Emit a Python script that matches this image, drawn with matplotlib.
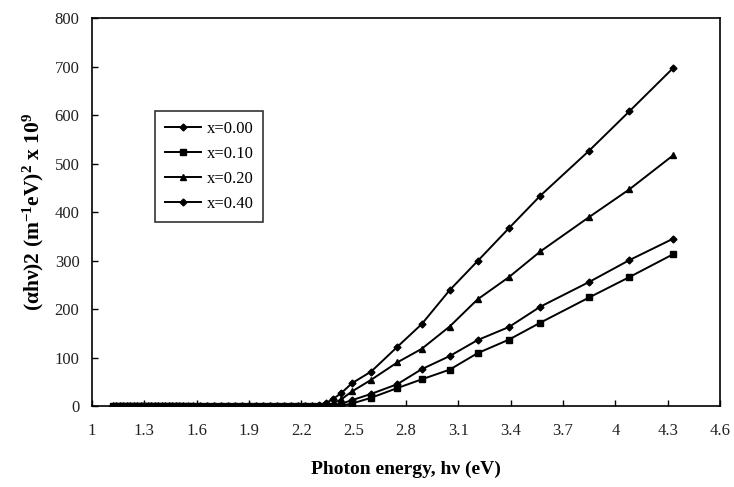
import numpy as np
import matplotlib
matplotlib.use('Agg')
import matplotlib.pyplot as plt

# photon energies (eV) of the rising part, shared by all samples
E_rise = [4.33, 4.08, 3.85, 3.57, 3.39, 3.21, 3.05, 2.89, 2.75, 2.60, 2.49, 2.43, 2.38, 2.34, 2.30]
# photon energies of the flat part below the gap
E_flat = [2.26, 2.22, 2.18, 2.14, 2.10, 2.06, 2.02, 1.98, 1.94, 1.90, 1.86, 1.82,
          1.78, 1.74, 1.70, 1.66, 1.62, 1.58, 1.55, 1.52, 1.50, 1.48, 1.46, 1.44,
          1.42, 1.40, 1.38, 1.36, 1.34, 1.32, 1.30, 1.28, 1.26, 1.24, 1.22, 1.20,
          1.18, 1.16, 1.14, 1.12]
flat_vals = [1, 1, 1, 1, 1, 1, 1, 1, 1, 1, 1, 1, 1, 1, 1, 1, 1, 1, 1, 1,
             1, 1, 1, 1, 1, 1, 1, 1, 1, 1, 1, 1, 1, 1, 1, 1, 1, 1, 1, 1]

# (alpha h nu)^2 x 1e9 for each composition
y_000 = [697, 608, 527, 434, 367, 299, 239, 169, 122, 71, 47, 27, 14, 6, 2]
y_010 = [313, 266, 224, 172, 137, 109, 75, 55, 37, 17, 5, 1, 0, 0, 0]
y_020 = [517, 447, 390, 319, 266, 220, 164, 118, 90, 54, 30, 14, 5, 1, 0]
y_040 = [345, 301, 256, 205, 163, 136, 103, 76, 45, 25, 12, 5, 2, 0, 0]

labels = ['x=0.00', 'x=0.10', 'x=0.20', 'x=0.40']
markers = ['D', 's', '^', 'D']
msizes = [3.5, 4, 4.5, 3.5]

plt.rcParams['font.family'] = ['Liberation Serif', 'DejaVu Serif']
plt.rcParams['mathtext.fontset'] = 'custom'
plt.rcParams['mathtext.rm'] = 'Liberation Serif:bold'
plt.rcParams['mathtext.it'] = 'Liberation Serif:bold:italic'
plt.rcParams['mathtext.bf'] = 'Liberation Serif:bold'

fig = plt.figure(figsize=(7.34, 4.87), dpi=100)
ax = fig.add_axes([0.1253, 0.1663, 0.8557, 0.7961])

E_all = E_rise + E_flat
for yv, lab, mk, ms in zip([y_000, y_010, y_020, y_040], labels, markers, msizes):
    ax.plot(E_all, yv + flat_vals, color='black', lw=1.4, marker=mk,
            markersize=ms, label=lab)

ax.set_xlim(1, 4.6)
ax.set_ylim(0, 800)
xt = [1, 1.3, 1.6, 1.9, 2.2, 2.5, 2.8, 3.1, 3.4, 3.7, 4, 4.3, 4.6]
ax.set_xticks(xt)
ax.set_xticklabels(['%g' % t for t in xt])
ax.set_yticks(np.arange(0, 801, 100))
ax.tick_params(direction='in', length=4, width=1, labelsize=12,
               labelcolor='#222222')
ax.tick_params(axis='x', pad=12)
ax.tick_params(axis='y', pad=9)
for s in ax.spines.values():
    s.set_linewidth(1.2)

ax.set_xlabel('Photon energy, h\u03bd (eV)', fontsize=14, fontweight='bold',
              labelpad=16)
ax.set_ylabel('(\u03b1h\u03bd)2 (m$^{-1}$eV)$^{2}$ x 10$^{9}$', fontsize=15.5,
              fontweight='bold', labelpad=6)

leg = ax.legend(loc='upper left', bbox_to_anchor=(0.1, 0.762), fontsize=12,
                frameon=True, fancybox=False, handlelength=2.2,
                borderpad=0.6, labelspacing=0.55, handletextpad=0.3,
                borderaxespad=0)
leg.get_frame().set_edgecolor('black')
leg.get_frame().set_linewidth(1.2)

fig.savefig('out.png', dpi=100)
